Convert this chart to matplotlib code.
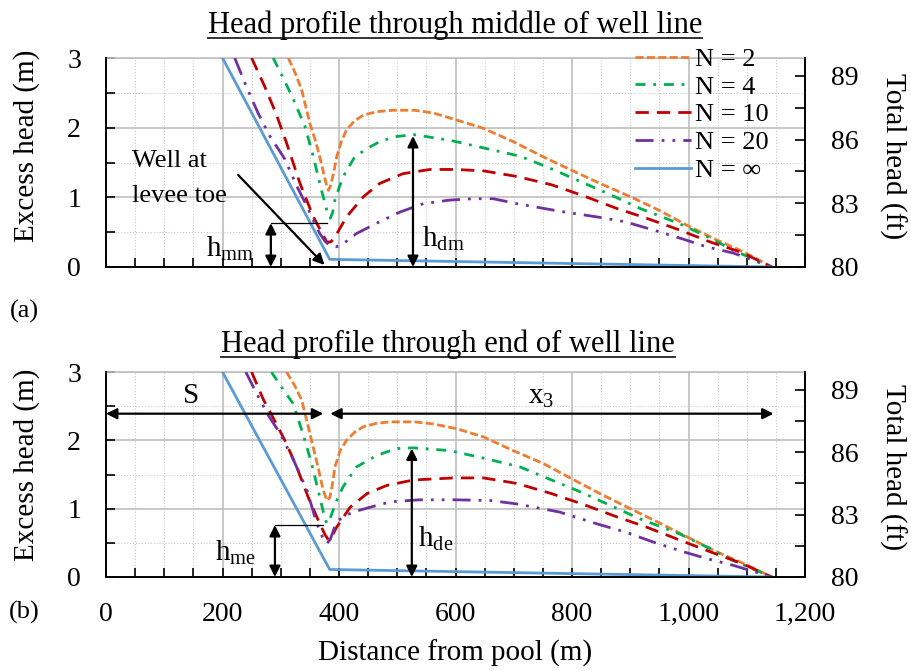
import matplotlib
matplotlib.use("Agg")
import matplotlib.pyplot as plt
from matplotlib.lines import Line2D
from matplotlib.ticker import MultipleLocator, FixedLocator

plt.rcParams['font.family'] = ['Liberation Serif', 'DejaVu Serif']
plt.rcParams['mathtext.fontset'] = 'custom'
plt.rcParams['mathtext.rm'] = 'Liberation Serif'
plt.rcParams['mathtext.it'] = 'Liberation Serif:italic'

# ---- data (distance m, excess head m) ----
labels = ['N = 2', 'N = 4', 'N = 10', 'N = 20', 'N = \u221e']

x_inf = [200, 384, 1143]
y_inf = [3.0, 0.11, 0.0]

# (a) middle of well line
x2a = [313, 325, 336, 350, 360, 367, 375, 379, 382, 386, 391, 396, 404, 413, 427, 442, 465, 493, 530, 562, 602, 648, 699, 751, 799, 848, 900, 948, 997, 1048, 1094, 1143]
y2a = [3.0, 2.78, 2.54, 2.06, 1.80, 1.58, 1.30, 1.16, 1.10, 1.18, 1.36, 1.58, 1.80, 1.97, 2.10, 2.18, 2.23, 2.25, 2.25, 2.21, 2.11, 1.99, 1.80, 1.58, 1.39, 1.20, 1.01, 0.82, 0.60, 0.39, 0.22, 0.0]
x4a = [287, 305, 322, 342, 356, 370, 379, 385, 389, 393, 401, 410, 427, 448, 470, 496, 528, 590, 653, 711, 759, 808, 860, 917, 985, 1031, 1077, 1143]
y4a = [3.0, 2.70, 2.40, 2.01, 1.58, 1.10, 0.82, 0.70, 0.78, 0.96, 1.16, 1.34, 1.58, 1.70, 1.80, 1.87, 1.90, 1.82, 1.70, 1.59, 1.43, 1.25, 1.06, 0.84, 0.62, 0.44, 0.24, 0.0]
x10a = [250, 272, 292, 310, 333, 356, 370, 379, 386, 393, 413, 442, 470, 510, 556, 600, 648, 705, 765, 817, 877, 928, 985, 1037, 1091, 1143]
y10a = [3.0, 2.60, 2.20, 1.78, 1.20, 0.72, 0.50, 0.36, 0.36, 0.43, 0.72, 1.01, 1.20, 1.34, 1.40, 1.40, 1.38, 1.30, 1.18, 1.03, 0.84, 0.70, 0.53, 0.36, 0.21, 0.0]
x20a = [221, 241, 261, 282, 307, 327, 345, 358, 367, 376, 385, 395, 405, 430, 465, 505, 545, 590, 630, 665, 705, 779, 842, 891, 940, 991, 1031, 1077, 1143]
y20a = [3.0, 2.59, 2.21, 1.87, 1.55, 1.17, 0.87, 0.63, 0.48, 0.37, 0.30, 0.29, 0.32, 0.48, 0.63, 0.79, 0.91, 0.96, 0.98, 0.98, 0.91, 0.80, 0.72, 0.65, 0.53, 0.40, 0.29, 0.20, 0.0]

# (b) end of well line
x2b = [310, 324, 336, 350, 364, 372, 379, 384, 388, 393, 402, 413, 427, 442, 465, 488, 530, 562, 602, 648, 699, 751, 799, 848, 900, 948, 997, 1048, 1094, 1143]
y2b = [3.0, 2.80, 2.59, 2.10, 1.61, 1.30, 1.12, 1.16, 1.32, 1.61, 1.85, 2.00, 2.12, 2.20, 2.25, 2.27, 2.27, 2.24, 2.17, 2.05, 1.85, 1.66, 1.44, 1.22, 1.00, 0.80, 0.59, 0.37, 0.20, 0.0]
x4b = [284, 302, 321, 338, 353, 367, 374, 379, 384, 390, 398, 407, 430, 465, 499, 528, 590, 653, 711, 759, 808, 860, 917, 985, 1031, 1077, 1143]
y4b = [3.0, 2.77, 2.54, 2.10, 1.66, 1.17, 0.92, 0.78, 0.84, 0.98, 1.16, 1.32, 1.61, 1.78, 1.88, 1.89, 1.85, 1.73, 1.61, 1.44, 1.27, 1.07, 0.85, 0.63, 0.44, 0.24, 0.0]
x10b = [250, 270, 290, 307, 327, 347, 367, 376, 382, 388, 396, 419, 448, 482, 528, 597, 648, 705, 765, 817, 877, 928, 985, 1037, 1091, 1143]
y10b = [3.0, 2.60, 2.28, 2.00, 1.62, 1.17, 0.78, 0.62, 0.54, 0.60, 0.73, 1.02, 1.22, 1.34, 1.42, 1.45, 1.45, 1.37, 1.22, 1.07, 0.88, 0.73, 0.54, 0.37, 0.20, 0.0]
x20b = [240, 259, 279, 299, 322, 345, 362, 372, 379, 385, 392, 399, 412, 424, 453, 488, 539, 597, 659, 705, 779, 842, 891, 940, 991, 1031, 1077, 1143]
y20b = [3.0, 2.68, 2.36, 2.10, 1.71, 1.27, 0.78, 0.58, 0.49, 0.55, 0.72, 0.83, 0.90, 0.95, 1.02, 1.10, 1.13, 1.13, 1.12, 1.07, 0.95, 0.78, 0.66, 0.51, 0.37, 0.27, 0.17, 0.0]

colors = ['#ED7D31', '#00B050', '#C00000', '#7030A0', '#5B9BD5']
dashes = [(2.9, 1.2), (3.6, 2.8, 1, 2.8), (4.8, 2.9), (6.5, 2.9, 1, 2.9, 1, 2.9), None]

W, H = 911, 671
fig = plt.figure(figsize=(W / 100, H / 100), dpi=100)

def px(x0, y0, x1, y1):
    return [x0 / W, 1 - y1 / H, (x1 - x0) / W, (y1 - y0) / H]

ax_a = fig.add_axes(px(106, 58, 805, 267))
ax_b = fig.add_axes(px(106, 372, 805, 577))

def arrow(ax, xy_from, xy_to, style='<|-|>'):
    ax.annotate('', xy=xy_to, xytext=xy_from,
                arrowprops=dict(arrowstyle=style, color='k', lw=1.6,
                                mutation_scale=16, shrinkA=0, shrinkB=0),
                zorder=6)

def panel(ax, xs, ys, show_x):
    for x, y, c, d, lab in zip(xs, ys, colors, dashes, labels):
        ln, = ax.plot(x, y, color=c, lw=2, label=lab, zorder=4)
        if d is not None:
            ln.set_dashes(d)
    ax.set_xlim(0, 1200)
    ax.set_ylim(0, 3)
    ax.xaxis.set_major_locator(MultipleLocator(200))
    ax.xaxis.set_minor_locator(MultipleLocator(50))
    ax.yaxis.set_major_locator(MultipleLocator(1))
    ax.yaxis.set_minor_locator(MultipleLocator(0.5))
    ax.grid(which='major', color='#BFBFBF', lw=1.2, ls='-')
    ax.grid(which='minor', color='#C8C8C8', lw=0.8, ls=':')
    ax.set_axisbelow(True)
    ax.tick_params(which='both', direction='in', length=6.5, width=1.2,
                   labelsize=20, pad=18, top=False, right=False)
    ax.tick_params(axis='x', labelbottom=show_x)
    ax.xaxis.set_major_formatter(lambda v, p: f'{int(v):,}')
    for s in ['left', 'bottom', 'right']:
        ax.spines[s].set_color('k')
        ax.spines[s].set_linewidth(1.2)
    ax.spines['top'].set_color('#BFBFBF')
    ax.spines['top'].set_linewidth(1.2)

    ax2 = ax.twinx()
    ax2.set_ylim(80, 80 + 3 * 3.28084)
    ax2.yaxis.set_major_locator(FixedLocator([80, 83, 86, 89]))
    ax2.yaxis.set_minor_locator(FixedLocator([81.5, 84.5, 87.5]))
    ax2.tick_params(which='both', direction='in', length=7, width=1.2,
                    labelsize=20, pad=19)
    for s in ['left', 'bottom', 'right']:
        ax2.spines[s].set_color('k')
        ax2.spines[s].set_linewidth(1.2)
    ax2.spines['top'].set_visible(False)
    return ax2

panel(ax_a, [x2a, x4a, x10a, x20a, x_inf], [y2a, y4a, y10a, y20a, y_inf], False)
panel(ax_b, [x2b, x4b, x10b, x20b, x_inf], [y2b, y4b, y10b, y20b, y_inf], True)

ax_a.legend(loc='upper left', bbox_to_anchor=(0.757, 1.05), frameon=False,
            fontsize=19, handlelength=2.1, handletextpad=0.15,
            labelspacing=0.16, borderpad=0, borderaxespad=0)

# annotations (a)
ax_a.text(45, 1.44, 'Well at', fontsize=19, ha='left', va='baseline', zorder=7)
ax_a.text(45, 0.93, 'levee toe', fontsize=19, ha='left', va='baseline', zorder=7)
arrow(ax_a, (227, 1.32), (375, 0.03), style='-|>')
arrow(ax_a, (283, 0.0), (283, 0.63))
ax_a.plot([283, 379], [0.63, 0.63], color='k', lw=0.9, zorder=6)
ax_a.text(172, 0.14, r'h$_{\mathrm{mm}}$', fontsize=21, ha='left', va='baseline', zorder=7)
arrow(ax_a, (527, 0.0), (527, 1.88))
ax_a.text(542, 0.29, r'h$_{\mathrm{dm}}$', fontsize=21, ha='left', va='baseline', zorder=7)

# annotations (b)
arrow(ax_b, (0, 2.39), (373, 2.39))
arrow(ax_b, (385, 2.39), (1146, 2.39))
ax_b.text(146, 2.54, 'S', fontsize=21, ha='center', va='baseline', zorder=7)
ax_b.text(725, 2.54, r'x$_{3}$', fontsize=21, ha='left', va='baseline', zorder=7)
arrow(ax_b, (290, 0.0), (290, 0.76))
ax_b.plot([290, 372], [0.76, 0.76], color='k', lw=0.9, zorder=6)
ax_b.text(187, 0.24, r'h$_{\mathrm{me}}$', fontsize=21, ha='left', va='baseline', zorder=7)
arrow(ax_b, (525, 0.0), (525, 1.88))
ax_b.text(536, 0.44, r'h$_{\mathrm{de}}$', fontsize=21, ha='left', va='baseline', zorder=7)

# labels
fig.text(27 / W, 1 - 146 / H, 'Excess head (m)', rotation=90, fontsize=21, ha='center', va='center')
fig.text(27 / W, 1 - 465 / H, 'Excess head (m)', rotation=90, fontsize=21, ha='center', va='center')
fig.text(893 / W, 1 - 156 / H, 'Total head (ft)', rotation=270, fontsize=21, ha='center', va='center')
fig.text(893 / W, 1 - 467 / H, 'Total head (ft)', rotation=270, fontsize=21, ha='center', va='center')
fig.text(455 / W, 1 - 653 / H, 'Distance from pool (m)', fontsize=21, ha='center', va='center')
fig.text(24 / W, 1 - 311 / H, '(a)', fontsize=19, ha='center', va='center')
fig.text(24 / W, 1 - 612 / H, '(b)', fontsize=19, ha='center', va='center')

t1 = fig.text(455 / W, 1 - 33 / H, 'Head profile through middle of well line', fontsize=22, ha='center', va='baseline')
t2 = fig.text(448 / W, 1 - 352 / H, 'Head profile through end of well line', fontsize=22, ha='center', va='baseline')

fig.canvas.draw()
r = fig.canvas.get_renderer()
for t, base in [(t1, 33), (t2, 352)]:
    bb = t.get_window_extent(r)
    y = 1 - (base + 5) / H
    fig.add_artist(Line2D([bb.x0 / W, bb.x1 / W], [y, y], color='#222222', lw=1.3))

fig.savefig('out.png', dpi=100)
